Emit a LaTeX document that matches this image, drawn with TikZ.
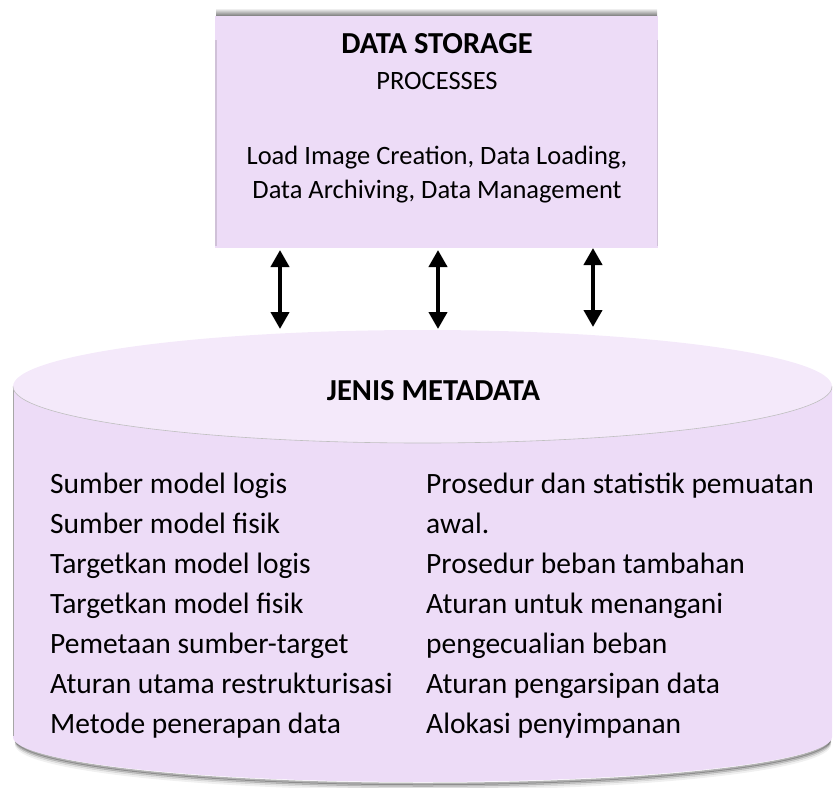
\documentclass[tikz,border=0pt]{standalone}
\usepackage{fontspec}
\setmainfont{Carlito}
\usetikzlibrary{arrows.meta}
\definecolor{boxfill}{RGB}{237,220,247}
\definecolor{topfill}{RGB}{244,233,250}
\tikzset{
  dblarrow/.style={line width=4pt,{Triangle[width=18pt,length=17pt]}-{Triangle[width=18pt,length=17pt]}},
  boxtext/.style={inner sep=0pt,font=\fontsize{26.5}{28}\selectfont},
  boldtext/.style={inner sep=0pt,font=\fontsize{30.5}{32}\selectfont\bfseries},
  lowtext/.style={inner sep=0pt,anchor=base west,font=\fontsize{29.5}{40}\selectfont},
}
\begin{document}
\begin{tikzpicture}[x=1pt,y=-1pt]
\useasboundingbox (0,0) rectangle (834,787);
% ---- top box
\shade[top color=white,bottom color=black!60] (216,8) rectangle (657,17);
\node[fill=boxfill,minimum width=443pt,minimum height=232pt,anchor=north west,inner sep=0pt] (box) at (215,16) {};
\draw[black,opacity=0.12,line width=1.5pt] (215.75,40) -- (215.75,246);
\draw[black,opacity=0.12,line width=1.5pt] (657.25,40) -- (657.25,246);
\node[boldtext,anchor=base] (t1) at (437,53) {DATA STORAGE};
\node[boxtext,anchor=base] (t2) at (437,89) {PROCESSES};
\node[boxtext,anchor=base] (t3) at (437,164) {Load Image Creation, Data Loading,};
\node[boxtext,anchor=base] (t4) at (437,198) {Data Archiving, Data Management};
% ---- cylinder shadow
\foreach \o/\op in {7/0.06,5/0.12,3.5/0.2,2/0.3} {
  \draw[black,opacity=\op,line width=2.5pt] (16,{737+\o}) arc[start angle=180,end angle=0,x radius=407,y radius=45];
}
% ---- cylinder body
\fill[boxfill] (13,386.5) -- (13,737) arc[start angle=180,end angle=0,x radius=409.5,y radius=45] -- (832,386.5) -- cycle;
\draw[black!35,line width=1.5pt] (13.5,390) -- (13.5,736);
\fill[topfill] (422.5,386.5) ellipse[x radius=409.5,y radius=56.5];
\draw[black!25,line width=0.6pt] (13,386.5) arc[start angle=180,end angle=0,x radius=409.5,y radius=56.5];
\node[boldtext,anchor=base] (cylt) at (433.5,400) {JENIS METADATA};
% ---- cylinder text
\foreach \t [count=\i] in {Sumber model logis,Sumber model fisik,Targetkan model logis,Targetkan model fisik,Pemetaan sumber-target,Aturan utama restrukturisasi,Metode penerapan data} {
  \node[lowtext] (L\i) at (50,{493+(\i-1)*40}) {\t};
}
\foreach \t [count=\i] in {Prosedur dan statistik pemuatan,awal.,Prosedur beban tambahan,Aturan untuk menangani,pengecualian beban,Aturan pengarsipan data,Alokasi penyimpanan} {
  \node[lowtext] (R\i) at (426,{493+(\i-1)*40}) {\t};
}
% ---- arrows
\coordinate (a1t) at (280,250); \coordinate (a1b) at (280,329);
\coordinate (a2t) at (438,250); \coordinate (a2b) at (438,329);
\coordinate (a3t) at (593,248); \coordinate (a3b) at (593,327);
\draw[dblarrow] (a1t) -- (a1b);
\draw[dblarrow] (a2t) -- (a2b);
\draw[dblarrow] (a3t) -- (a3b);
\end{tikzpicture}
\end{document}
